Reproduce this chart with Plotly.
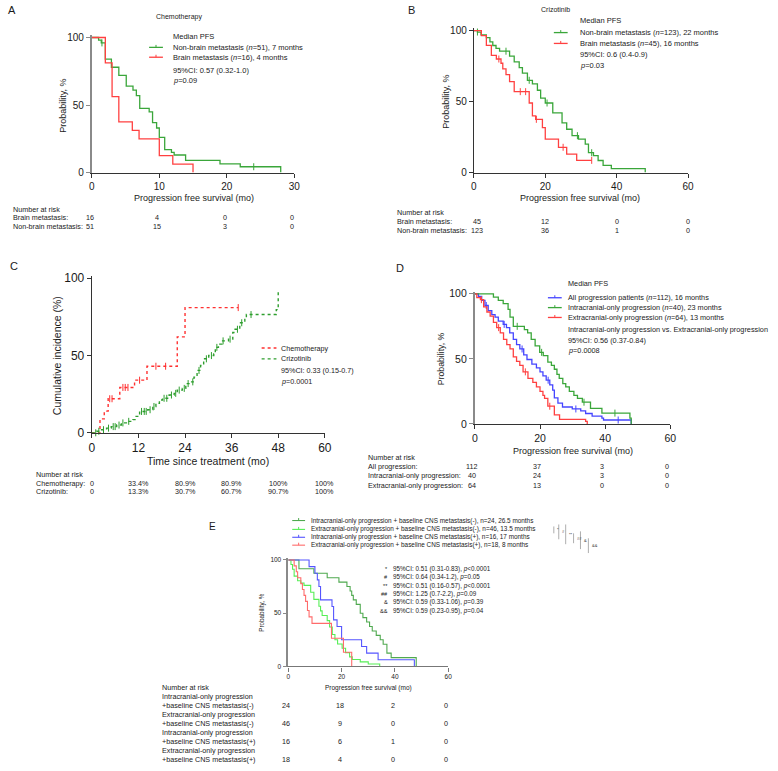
import plotly.graph_objects as go

W, H = 778, 771
FONT = "Liberation Sans, Arial, sans-serif"
TXT = "#1a1a1a"

# ---------------- DATA ----------------
# Panel A: chemotherapy PFS (months, % progression free)
A_nonbrain_t = [0, 1, 1.4, 2, 2.9, 4, 5.1, 6.1, 6.6, 7.1, 8.5, 9, 9.6, 10, 10.8, 11.8, 12.2, 13.9, 19, 22, 28]
A_nonbrain_s = [100, 98, 96, 84, 78, 72, 64, 61, 57, 47.5, 45, 37, 33, 26, 17, 15, 13, 9, 6.5, 4.3, 0]
A_nonbrain_cens = [1.5, 24]
A_brain_t = [0, 2, 3, 4, 6, 7, 10, 12, 15]
A_brain_s = [100, 81.25, 56.25, 37.5, 31.25, 25, 12.5, 6.25, 0]
A_risk_times = [0, 10, 20, 30]
A_risk_brain = [16, 4, 0, 0]
A_risk_nonbrain = [51, 15, 3, 0]

# Panel B: crizotinib PFS
B_nonbrain_t = [0, 1, 2, 3.5, 4.5, 5.3, 6.2, 7.2, 10, 11.3, 12.7, 13.6, 15, 16.4, 17.8, 18.7, 20, 22.1, 24.7, 26, 27.5, 29.3, 31.2, 32.1, 33.5, 34.8, 36.2, 38.5, 48]
B_nonbrain_s = [100, 99, 97, 95, 92, 89.5, 87.5, 85.5, 82, 78, 74, 70, 65, 62.5, 58, 52.5, 49, 42, 35, 30.5, 26, 23.5, 20, 14, 12, 8.5, 5, 2.8, 0]
B_nonbrain_cens = [1, 9, 15.5, 20.5, 29, 33]
B_brain_t = [0, 2.1, 3.5, 4.9, 6.3, 7.6, 8.1, 9, 10, 11.3, 15.5, 16.4, 17.3, 19.2, 20, 23.7, 26, 28.8, 33]
B_brain_s = [100, 96.5, 89.6, 82.6, 80, 77, 73, 69, 64, 57, 49, 40, 37.5, 31.7, 23.6, 17.8, 13, 8.6, 8.6]
B_brain_cens = [7, 13, 14.5, 17.5, 25, 33]
B_risk_times = [0, 20, 40, 60]
B_risk_brain = [45, 12, 0, 0]
B_risk_nonbrain = [123, 36, 1, 0]

# Panel C: cumulative incidence of brain progression
C_chemo_t = [0, 2.1, 3.2, 4.2, 7.2, 11, 14.2, 22, 24, 37.7]
C_chemo_s = [0, 9, 14, 22, 29.3, 34, 43, 62, 80.9, 80.9]
C_chemo_cens = [4.6, 5.2, 8, 8.6, 9.3, 12.3, 16.5, 19, 37.7]
C_criz_t = [0, 1.3, 2.5, 3.8, 5, 6.4, 7.6, 8.9, 10.6, 11.4, 12.3, 14.4, 15.7, 16.5, 17.4, 18.2, 19.9, 21.2, 22, 23.3,
            24.2, 25.4, 26.3, 27.1, 28, 28.8, 30.1, 31.4, 31.8, 32.6, 33.5, 35.2, 36.3, 36.9, 38.1, 39.4, 39.8, 47.5, 48]
C_criz_s = [0, 1, 2, 3, 4, 5, 6.4, 7.4, 8.5, 10.6, 13.8, 14.9, 17, 19, 21.2, 22.3, 24.4, 25.5, 27.6, 28.7,
            31.8, 32.9, 36, 40.3, 43.5, 47.8, 49.9, 51, 55.2, 57.3, 59.4, 60.5, 64.8, 66.9, 71.1, 74.3, 76.4, 79.6, 92.3]
C_criz_cens = [1, 1.8, 3, 4.3, 5.5, 6, 7, 8, 9.5, 12.8, 13.5, 14, 15, 16, 18.6, 19.3, 20.5, 21.6, 22.5, 23.8,
               24.8, 26, 27.6, 29.5, 30.8, 32.2, 33.8, 35.6, 37.5, 38.6, 41]
C_risk_times = [0, 12, 24, 36, 48, 60]
C_risk_chemo = ["0", "33.4%", "80.9%", "80.9%", "100%", "100%"]
C_risk_criz = ["0", "13.3%", "30.7%", "60.7%", "90.7%", "100%"]

# Panel D: progression pattern PFS
D_all_t = [0, 1.1, 2.1, 3.1, 4.1, 5.2, 6.2, 7.2, 8.7, 9.7, 10.7, 11.8, 12.8, 13.8, 15, 16, 17.5, 18.9, 20, 20.9,
           21.9, 23, 23.9, 24.4, 25.5, 26.9, 29.9, 32.5, 34, 36, 39, 39.5, 47.6, 48]
D_all_s = [100, 98, 95, 91, 87, 84, 82, 79, 76.5, 74, 70, 65, 61, 57.6, 53, 49.5, 46, 43, 40, 37,
           33.6, 30, 26, 20, 16, 13, 11.5, 10, 8, 6, 4.5, 3, 3, 0]
D_all_cens = [3.5, 9, 14.5, 22.5, 31, 44]
D_intra_t = [0, 5.7, 7.2, 8.7, 10.2, 10.8, 11.8, 15.2, 16.2, 17.3, 18.5, 19.9, 21, 22.4, 23.5, 24.4, 25.2, 25.9, 27, 27.9,
             29, 30.4, 31.5, 33, 35.5, 39, 47.6, 48]
D_intra_s = [100, 97.5, 95, 92.5, 88, 82, 75, 72.5, 70, 65, 60, 55, 52.5, 47.5, 45, 42, 38, 35, 31, 28.5,
             25, 22, 19.7, 16.7, 12, 8.3, 4.5, 0]
D_intra_cens = [13, 20.5, 33.5, 43]
D_extra_t = [0, 0.6, 1.7, 2.7, 3.7, 4.7, 5.7, 6.7, 7.8, 8.8, 9.8, 10.8, 11.8, 12.8, 13.8, 14.8, 16.3, 17.8, 18.9, 20,
             20.9, 21.4, 22.4, 24.4, 26, 34, 34.5]
D_extra_s = [100, 97, 95.5, 90, 86, 82.8, 78, 74, 70, 65, 61, 57.6, 51.5, 48, 45, 40, 35, 32, 28.5, 25,
             22, 19.7, 13.6, 7, 3.5, 2, 0]
D_extra_cens = [2, 7.3, 15.5, 23]
D_risk_times = [0, 20, 40, 60]
D_risk_all = [112, 37, 3, 0]
D_risk_intra = [40, 24, 3, 0]
D_risk_extra = [64, 13, 0, 0]

# Panel E: progression pattern x baseline CNS metastasis
E_icneg_t = [0, 4, 9.6, 14.6, 19, 22, 23.2, 23.8, 24.4, 25.5, 27, 28, 29.4, 30.5, 31.5, 33, 34.5, 35.6, 37, 38.6, 48]
E_icneg_s = [100, 91.7, 87.5, 83.3, 79.2, 75, 70.8, 66.7, 62.5, 58.3, 50, 45.8, 41.7, 37.5, 33.3, 29.2, 25, 20.8, 12.5, 8.3, 0]
E_ecneg_t = [0, 1, 1.6, 2.2, 3.5, 4.7, 5.9, 8.4, 9.6, 11.5, 12.1, 12.7, 14.6, 15.5, 16.5, 17.5, 18.5, 20.2, 21.5, 23, 24, 27, 30, 34.3]
E_ecneg_s = [100, 95.7, 91.3, 84.8, 80.4, 78.3, 76.1, 69.6, 63, 56.5, 52.2, 47.8, 43, 37, 30, 25, 21, 17, 13, 9, 6.5, 4.3, 2.2, 0]
E_icpos_t = [0, 7.8, 10, 10.9, 11.5, 12.1, 16.4, 17, 18.3, 20, 27.5, 29.4, 33.7, 47.3]
E_icpos_s = [100, 93.75, 87.5, 81.25, 75, 62.5, 56.25, 43.75, 37.5, 25, 18.75, 12.5, 6.25, 0]
E_ecpos_t = [0, 2.2, 3, 3.5, 4.7, 5.3, 5.9, 6.5, 7.2, 7.8, 8.9, 16.2, 20.7, 23.8]
E_ecpos_s = [100, 94.4, 88.9, 83.3, 77.8, 72.2, 66.7, 61.1, 52.5, 46.5, 40.4, 26.5, 13.3, 0]
E_risk_times = [0, 20, 40, 60]
E_risk_icneg = [24, 18, 2, 0]
E_risk_ecneg = [46, 9, 0, 0]
E_risk_icpos = [16, 6, 1, 0]
E_risk_ecpos = [18, 4, 0, 0]
E_legend = ["Intracranial-only progression + baseline CNS metastasis(-), n=24, 26.5 months",
            "Extracranial-only progression + baseline CNS metastasis(-), n=46, 13.5 months",
            "Intracranial-only progression + baseline CNS metastasis(+), n=16, 17 months",
            "Extracranial-only progression + baseline CNS metastasis(+), n=18, 8 months"]
E_stat_symbols = ["*", "#", "**", "##", "&", "&&"]
E_stats = ["95%CI: 0.51 (0.31-0.83), <i>p</i>&lt;0.0001",
           "95%CI: 0.64 (0.34-1.2), <i>p</i>=0.05",
           "95%CI: 0.51 (0.16-0.57), <i>p</i>&lt;0.0001",
           "95%CI: 1.25 (0.7-2.2), <i>p</i>=0.09",
           "95%CI: 0.59 (0.33-1.06), <i>p</i>=0.39",
           "95%CI: 0.59 (0.23-0.95), <i>p</i>=0.04"]

# colours
GREEN = "#3aa63a"
RED = "#ff4040"
BLUE = "#4545ff"
E_DKGREEN = "#4fa94f"
E_LTGREEN = "#55ee55"
E_BLUE = "#5555ff"
E_SALMON = "#ff6b6b"

RISK_FS = 7.2

# ---------------- FIGURE ----------------
fig = go.Figure()
ann = []
shapes = []


def px(x):
    return x / W


def py(y):
    return 1 - y / H


def text(x, y, s, size=RISK_FS, anchor="left", **kw):
    d = dict(x=px(x), y=py(y), xref="paper", yref="paper", text=s, showarrow=False,
             xanchor=anchor, yanchor="middle", font=dict(size=size, family=FONT, color=TXT))
    d.update(kw)
    ann.append(d)


def step_at(ts, ss, x):
    v = ss[0]
    for ti, si in zip(ts, ss):
        if ti <= x:
            v = si
    return v


def curve(t, s, color, n, dash="solid", width=1.3, cens=None):
    xa = "x" if n == 1 else f"x{n}"
    ya = "y" if n == 1 else f"y{n}"
    fig.add_trace(go.Scatter(x=t, y=s, mode="lines", xaxis=xa, yaxis=ya,
                             line=dict(shape="hv", color=color, width=width, dash=dash),
                             showlegend=False, hoverinfo="skip"))
    if cens:
        fig.add_trace(go.Scatter(x=cens, y=[step_at(t, s, c) for c in cens], mode="markers",
                                 xaxis=xa, yaxis=ya, cliponaxis=False,
                                 marker=dict(symbol="line-ns", size=5, line=dict(width=1, color=color)),
                                 showlegend=False, hoverinfo="skip"))


def axes(n, x0, x1, y0, y100, xr, xticks, tsize, ycol="#333", ywid=1.2, xcol="#333", yticks=(0, 50, 100)):
    top = 101.5
    ytop = y0 - (y0 - y100) * top / 100
    sx = "" if n == 1 else str(n)
    fig.layout[f"xaxis{sx}"] = dict(domain=[px(x0), px(x1)], range=xr, tickvals=xticks, ticks="outside",
                                   ticklen=4, tickwidth=1, tickcolor=xcol, showline=True, linecolor=xcol,
                                   linewidth=1.2, showgrid=False, zeroline=False, anchor=f"y{sx}",
                                   tickfont=dict(size=tsize, family=FONT, color=TXT))
    fig.layout[f"yaxis{sx}"] = dict(domain=[py(y0), py(ytop)], range=[0, top], tickvals=list(yticks),
                                   ticks="outside", ticklen=4, tickwidth=1, tickcolor=ycol, showline=True,
                                   linecolor=ycol, linewidth=ywid, showgrid=False, zeroline=False,
                                   anchor=f"x{sx}", tickfont=dict(size=tsize, family=FONT, color=TXT))


def leg_line(x0, x1, y, color, dash="solid", tick=True, width=1.3):
    shapes.append(dict(type="line", xref="paper", yref="paper", x0=px(x0), x1=px(x1), y0=py(y), y1=py(y),
                       line=dict(color=color, width=width, dash=dash)))
    if tick:
        xm = (x0 + x1) / 2
        shapes.append(dict(type="line", xref="paper", yref="paper", x0=px(xm), x1=px(xm), y0=py(y - 2.5),
                           y1=py(y), line=dict(color=color, width=1)))


def risk_row(n, y, times, vals, size=RISK_FS, xshift=0, first_shift=0):
    xr = "x" if n == 1 else f"x{n}"
    for i, (t, v) in enumerate(zip(times, vals)):
        ann.append(dict(x=t, y=py(y), xref=xr, yref="paper", text=str(v), showarrow=False,
                        xanchor="center", yanchor="middle", xshift=xshift + (first_shift if i == 0 else 0),
                        font=dict(size=size, family=FONT, color=TXT)))


# ---- Panel A ----
axes(1, 90, 295, 171, 34, [0, 30], [0, 10, 20, 30], 10, ycol="#8a8a8a", ywid=2)
curve(A_nonbrain_t, A_nonbrain_s, GREEN, 1, cens=A_nonbrain_cens)
curve(A_brain_t, A_brain_s, RED, 1)
text(3, 6, "A", size=11)
text(178, 13, "Chemotherapy", size=7, anchor="center")
text(60, 103, "Probability, %", size=9, anchor="center", textangle=-90)
text(193, 197, "Progression free survival (mo)", size=9, anchor="center")
text(170, 33, "Median PFS", size=7.5)
leg_line(148, 162, 44, GREEN)
text(170, 44, "Non-brain metastasis (<i>n</i>=51), 7 months", size=7.5)
leg_line(148, 162, 54, RED)
text(170, 54, "Brain metastasis (<i>n</i>=16), 4 months", size=7.5)
text(170, 67, "95%CI: 0.57 (0.32-1.0)", size=7.5)
text(170, 78, "<i>p</i>=0.09", size=7.5)
text(8, 208, "Number at risk")
text(8, 217, "Brain metastasis:")
text(8, 226, "Non-brain metastasis:")
risk_row(1, 217, A_risk_times, A_risk_brain, xshift=-2)
risk_row(1, 226, A_risk_times, A_risk_nonbrain, xshift=-2)

# ---- Panel B ----
axes(2, 477, 694, 171, 27, [0, 60], [0, 20, 40, 60], 10, ycol="#333", ywid=1.2)
curve(B_nonbrain_t, B_nonbrain_s, GREEN, 2, cens=B_nonbrain_cens)
curve(B_brain_t, B_brain_s, RED, 2, cens=B_brain_cens)
text(408, 6, "B", size=11)
text(560, 6, "Crizotinib", size=7, anchor="center")
text(448, 99, "Probability, %", size=9, anchor="center", textangle=-90)
text(585, 197, "Progression free survival (mo)", size=9, anchor="center")
text(582, 17, "Median PFS", size=7.5)
leg_line(558, 572, 29, GREEN)
text(582, 29, "Non-brain metastasis (<i>n</i>=123), 22 months", size=7.5)
leg_line(558, 572, 40, RED)
text(582, 40, "Brain metastasis (<i>n</i>=45), 16 months", size=7.5)
text(582, 51, "95%CI: 0.6 (0.4-0.9)", size=7.5)
text(582, 62, "<i>p</i>=0.03", size=7.5)
text(397, 212, "Number at risk")
text(397, 221, "Brain metastasis:")
text(397, 230, "Non-brain metastasis:")
risk_row(2, 221, B_risk_times, B_risk_brain, first_shift=3)
risk_row(2, 230, B_risk_times, B_risk_nonbrain, first_shift=3)

# ---- Panel C ----
axes(3, 90, 326, 435, 278, [0, 60], [0, 12, 24, 36, 48, 60], 12, ycol="#333", ywid=1.3)
curve(C_chemo_t, C_chemo_s, "#ff3030", 3, dash="dot", width=1.4, cens=C_chemo_cens)
curve(C_criz_t, C_criz_s, "#2e9e2e", 3, dash="dot", width=1.4, cens=C_criz_cens)
text(5, 266, "C", size=11)
text(55, 357, "Cumulative incidence (%)", size=10.5, anchor="center", textangle=-90)
text(208, 464, "Time since treatment (mo)", size=10.5, anchor="center")
leg_line(262, 277, 349, "#ff3030", dash="dot", tick=False, width=1.4)
text(280, 349, "Chemotherapy")
leg_line(262, 277, 360, "#2e9e2e", dash="dot", tick=False, width=1.4)
text(280, 360, "Crizotinib")
text(280, 372, "95%CI: 0.33 (0.15-0.7)")
text(280, 383, "<i>p</i>=0.0001")
text(31, 477, "Number at risk")
text(31, 486, "Chemotherapy:")
text(31, 495, "Crizotinib:")
risk_row(3, 486, C_risk_times, C_risk_chemo)
risk_row(3, 495, C_risk_times, C_risk_criz)

# ---- Panel D ----
axes(4, 478, 676, 426, 294, [0, 60], [0, 20, 40, 60], 10.5, ycol="#8a8a8a", ywid=2)
curve(D_all_t, D_all_s, BLUE, 4, cens=D_all_cens)
curve(D_intra_t, D_intra_s, GREEN, 4, cens=D_intra_cens)
curve(D_extra_t, D_extra_s, RED, 4, cens=D_extra_cens)
text(396, 268, "D", size=11)
text(444, 360, "Probability, %", size=8.7, anchor="center", textangle=-90)
text(577, 453, "Progression free survival (mo)", size=9, anchor="center")
text(570, 284, "Median PFS", size=7.3)
leg_line(552, 566, 298, BLUE)
text(570, 298, "All progression patients (<i>n</i>=112), 16 months", size=7.3)
leg_line(552, 566, 308, GREEN)
text(570, 308, "Intracranial-only progression (<i>n</i>=40), 23 months", size=7.3)
leg_line(552, 566, 318, RED)
text(570, 318, "Extracranial-only progression (<i>n</i>=64), 13 months", size=7.3)
text(570, 330, "Intracranial-only progression vs. Extracranial-only progression", size=7.3)
text(570, 341, "95%CI: 0.56 (0.37-0.84)", size=7.3)
text(570, 352, "<i>p</i>=0.0008", size=7.3)
text(368, 460, "Number at risk")
text(368, 469, "All progression:")
text(368, 478, "Intracranial-only progression:")
text(368, 488, "Extracranial-only progression:")
risk_row(4, 469, D_risk_times, D_risk_all, xshift=-3)
risk_row(4, 478, D_risk_times, D_risk_intra, xshift=-3)
risk_row(4, 488, D_risk_times, D_risk_extra, xshift=-3)

# ---- Panel E ----
axes(5, 289, 451, 672, 564, [0, 60], [0, 20, 40, 60], 6.5, ycol="#8a8a8a", ywid=1.5, xcol="#777")
curve(E_icneg_t, E_icneg_s, E_DKGREEN, 5, width=1.1)
curve(E_ecneg_t, E_ecneg_s, E_LTGREEN, 5, width=1.1)
curve(E_icpos_t, E_icpos_s, E_BLUE, 5, width=1.1)
curve(E_ecpos_t, E_ecpos_s, E_SALMON, 5, width=1.1)
text(207, 530, "E", size=10)
text(263, 618, "Probability, %", size=6.3, anchor="center", textangle=-90)
text(370, 694, "Progression free survival (mo)", size=6.5, anchor="center")
for yy, col, lab in zip([524, 533, 541, 549], [E_DKGREEN, E_LTGREEN, E_BLUE, E_SALMON], E_legend):
    leg_line(293, 306, yy, col, width=1.1)
    text(310, yy, lab, size=6.4)
for k, (sym, st) in enumerate(zip(E_stat_symbols, E_stats)):
    yy = 573 + k * 8.5
    text(392, yy, sym, size=5.5, anchor="right")
    text(393, yy, st, size=6.3)
# comparison brackets
br = [(558, 530, 537, "*"), (563, 528, 543, "#"), (570, 528, 548, "**"),
      (578, 537, 547, "##"), (585, 535, 553, "&"), (593, 542, 557, "&&")]
for x, ya, yb, sym in br:
    shapes.append(dict(type="line", xref="paper", yref="paper", x0=px(x), x1=px(x), y0=py(ya), y1=py(yb),
                       line=dict(color="#999", width=0.8)))
    text(x + 1.5, (ya + yb) / 2, sym, size=4)
text(159, 693, "Number at risk")
rows = [("Intracranial-only progression", "+baseline CNS metastasis(-)", E_risk_icneg),
        ("Extracranial-only progression", "+baseline CNS metastasis(-)", E_risk_ecneg),
        ("Intracranial-only progression", "+baseline CNS metastasis(+)", E_risk_icpos),
        ("Extracranial-only progression", "+baseline CNS metastasis(+)", E_risk_ecpos)]
for k, (l1, l2, vals) in enumerate(rows):
    y1 = 703 + k * 18
    text(159, y1, l1)
    text(159, y1 + 9, l2)
    risk_row(5, y1 + 9, E_risk_times, vals, xshift=-2)

fig.update_layout(width=W, height=H, margin=dict(l=0, r=0, t=0, b=0), paper_bgcolor="white",
                  plot_bgcolor="white", annotations=ann, shapes=shapes, showlegend=False,
                  font=dict(family=FONT, color=TXT))

fig.write_html("out.html", config={"displayModeBar": False},
               post_script="document.body.style.margin='0';")
